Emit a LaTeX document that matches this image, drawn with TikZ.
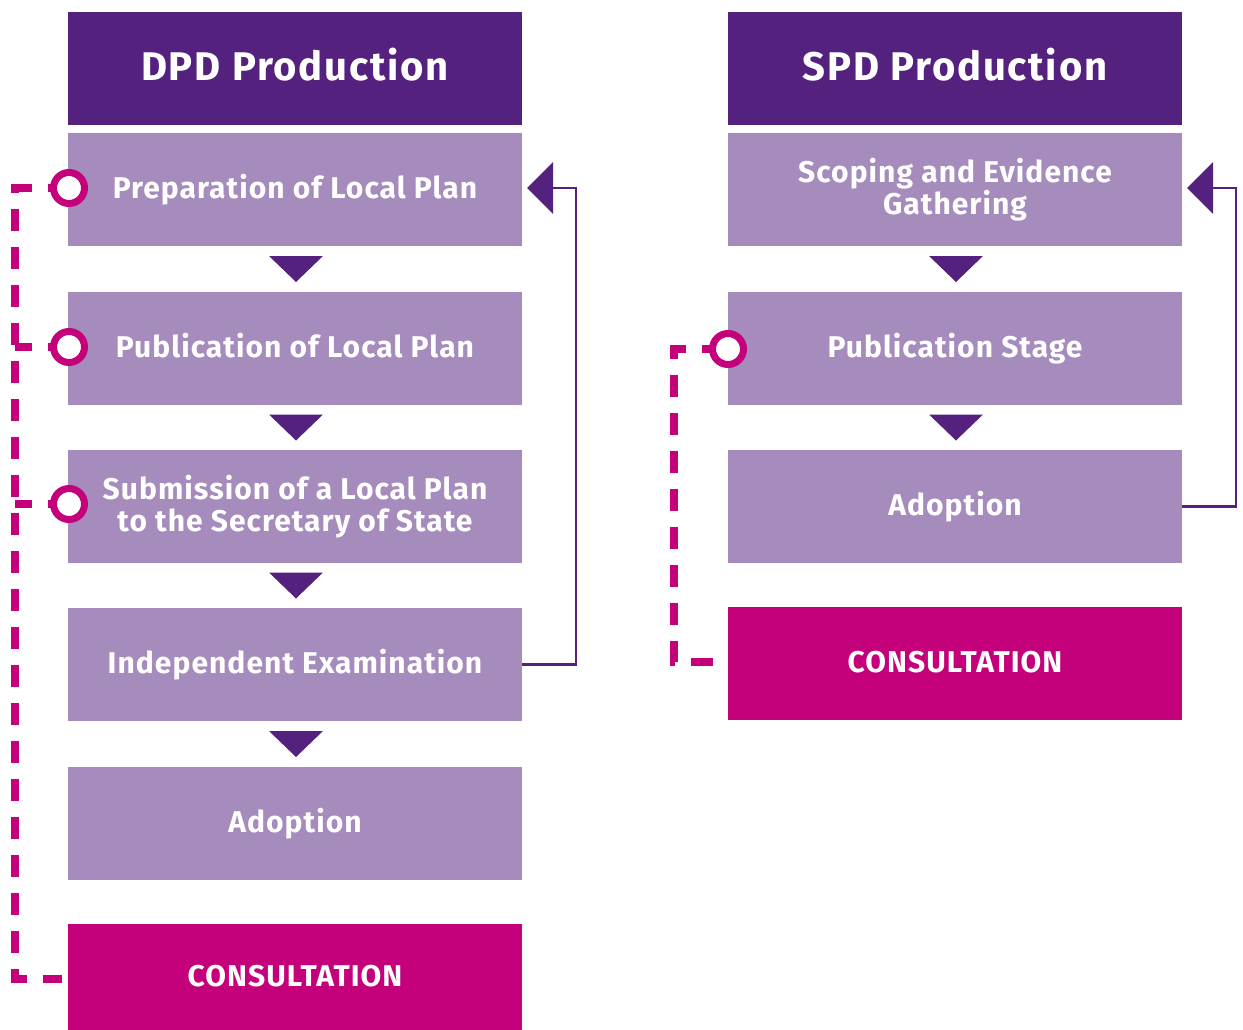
\documentclass[tikz,border=0pt]{standalone}
\usepackage{fontspec}
\setmainfont{Fira Sans}
\newfontfamily\bodyfont[LetterSpace=3.5]{Fira Sans}
\newfontfamily\headfont[LetterSpace=4.5]{Fira Sans}
\usetikzlibrary{calc}
\definecolor{dpurple}{HTML}{55217F}
\definecolor{lpurple}{HTML}{A68BBD}
\definecolor{magent}{HTML}{C4007A}
\tikzset{
  box/.style={rectangle, minimum width=454pt, minimum height=113pt, inner sep=0pt, outer sep=0pt,
    text=white, font=\bodyfont\bfseries\fontsize{30}{32}\selectfont, align=center},
  stage/.style={box, fill=lpurple},
  oneline/.style={text height=25pt, text depth=7pt},
  head/.style={box, fill=dpurple, font=\headfont\bfseries\fontsize{40}{44}\selectfont, text height=32pt, text depth=7pt},
  cons/.style={box, fill=magent, oneline},
  fb/.style={draw=dpurple, line width=2.5pt},
  dashline/.style={draw=magent, line width=8pt, dash pattern=on 22pt off 16pt, dash phase=14pt, line join=miter},
  ring/.style={circle, draw=magent, line width=7pt, fill=white, minimum size=31pt, inner sep=0pt},
}
\begin{document}
\begin{tikzpicture}[x=1pt,y=-1pt]
\useasboundingbox (0,0) rectangle (1243,1030);
% left column
\node[head]  (lh) at (295,68.5) {DPD Production};
\node[stage, oneline] (l1) at (295,189.5) {Preparation of Local Plan};
\node[stage, oneline] (l2) at (295,348.5) {Publication of Local Plan};
\node[stage] (l3) at (295,506.5) {Submission of a Local Plan\\to the Secretary of State};
\node[stage, oneline] (l4) at (295,664.5) {Independent Examination};
\node[stage, oneline] (l5) at (295,823.5) {Adoption};
\node[cons, minimum height=106pt] (lc) at (295,977) {CONSULTATION};
% right column
\node[head]  (rh) at (955,68.5) {SPD Production};
\node[stage] (r1) at (955,189.5) {Scoping and Evidence\\Gathering};
\node[stage, oneline] (r2) at (955,348.5) {Publication Stage};
\node[stage, oneline] (r3) at (955,506.5) {Adoption};
\node[cons, minimum height=113pt] (rc) at (955,663.5) {CONSULTATION};
% down triangles
\foreach \a/\b in {l1/l2,l2/l3,l3/l4,l4/l5,r1/r2,r2/r3}{
  \fill[dpurple] ($(\a.south)!0.5!(\b.north)+(1,0)$) ++(-27,-13) -- ++(54,0) -- ++(-27,26) -- cycle;
}
% feedback arrows
\draw[fb] (l4.east) -- ++(54,0) |- ($(l1.east)+(31,-1.5)$);
\fill[dpurple] ($(l1.east)+(5,-1.5)$) -- ++(26,-26) -- ++(0,52) -- cycle;
\draw[fb] (r3.east) -- ++(54,0) |- ($(r1.east)+(31,-1.5)$);
\fill[dpurple] ($(r1.east)+(5,-1.5)$) -- ++(26,-26) -- ++(0,52) -- cycle;
% consultation dashed lines (left)
\coordinate (lcw) at ($(lc.west)+(-6,2)$);
\draw[dashline] ($(l1.west)+(-12,-1.5)$) -- ++(-41,0) |- (lcw);
\draw[dashline] ($(l2.west)+(-12,-1.5)$) -- ++(-41,0);
\draw[dashline] ($(l3.west)+(-12,-2.5)$) -- ++(-41,0);
\node[ring] (c1) at ($(l1.west)+(1,-1.5)$) {};
\node[ring] (c2) at ($(l2.west)+(1,-1.5)$) {};
\node[ring] (c3) at ($(l3.west)+(1,-2.5)$) {};
% right dashed
\coordinate (rcw) at ($(rc.west)+(-8,-1.5)$);
\draw[dashline] ($(r2.west)+(-18,0.5)$) -- ++(-36,0) |- (rcw);
\node[ring] (c4) at ($(r2.west)+(0,0.5)$) {};
\end{tikzpicture}
\end{document}
